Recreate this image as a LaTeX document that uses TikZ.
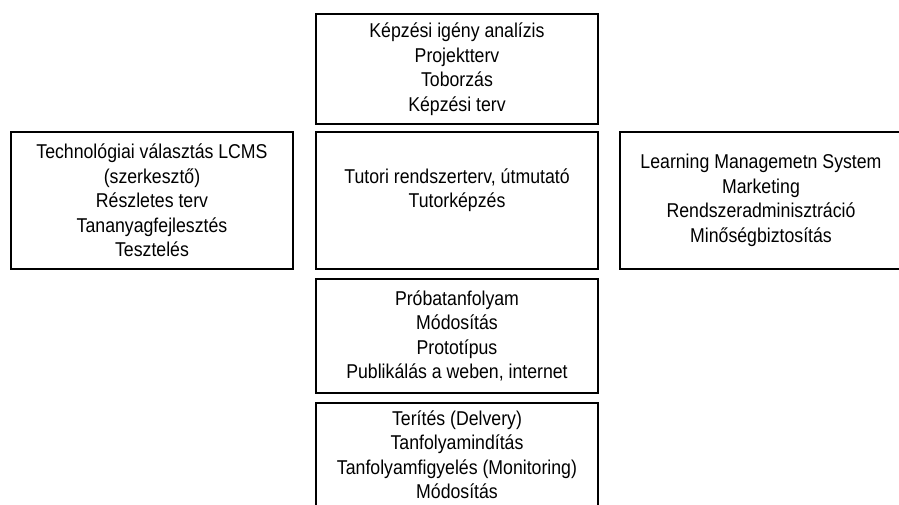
\documentclass[tikz,border=0pt]{standalone}
\usepackage{fontspec}
\setmainfont{Liberation Sans}[FakeStretch=0.885]
\begin{document}
\begin{tikzpicture}[x=1pt,y=-1pt,
  box/.style={draw, line width=2pt, minimum width=282pt, minimum height=#1,
    inner sep=0pt, align=center, font=\fontsize{20}{24.5}\selectfont}]
\useasboundingbox (0,0) rectangle (899,505);
\clip (0,0) rectangle (899,505);
\node[box=110.6pt] (plan) at (457,69) {Képzési igény analízis\\Projektterv\\Toborzás\\Képzési terv};
\node[box=137pt] (tech) at (152,200.5) {Technológiai választás LCMS\\(szerkesztő)\\Részletes terv\\Tananyagfejlesztés\\Tesztelés};
\node[box=137pt] (tutor) at (457,200.5) {Tutori rendszerterv, útmutató\\Tutorképzés\\\mbox{}};
\node[box=137pt] (lms) at (761,200.5) {Learning Managemetn System\\Marketing\\Rendszeradminisztráció\\Minőségbiztosítás};
\node[box=114pt] (proba) at (457,336) {Próbatanfolyam\\Módosítás\\Prototípus\\Publikálás a weben, internet};
\node[box=104pt] (terites) at (457,454.5) {Terítés (Delvery)\\Tanfolyamindítás\\Tanfolyamfigyelés (Monitoring)\\Módosítás};
\end{tikzpicture}
\end{document}
